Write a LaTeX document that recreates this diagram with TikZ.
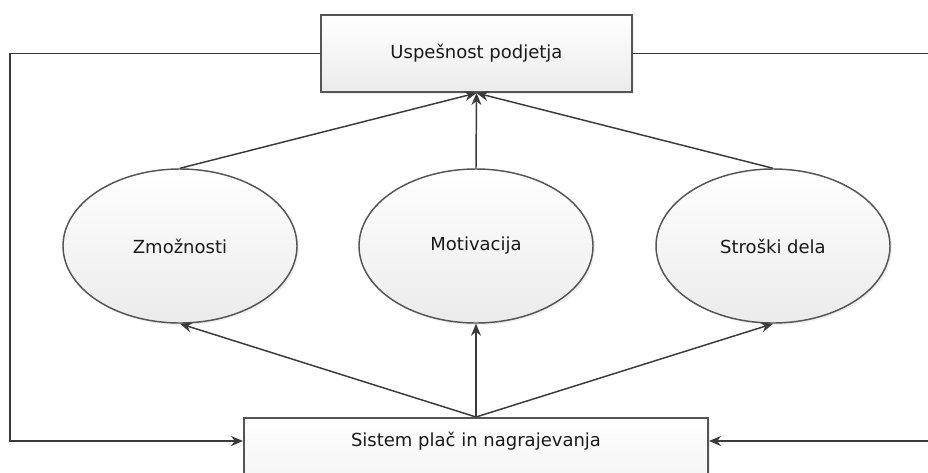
\documentclass[tikz,border=0pt]{standalone}
\usepackage{fontspec}
\setmainfont{DejaVu Sans}
\usetikzlibrary{shapes.geometric,arrows.meta,shadows}
\definecolor{edgegray}{HTML}{555555}
\definecolor{linegray}{HTML}{3A3A3A}
\definecolor{txtgray}{HTML}{1A1A1A}
\definecolor{fillbot}{HTML}{EBEBEB}
\tikzset{
  boxstyle/.style={rectangle, draw=edgegray, line width=1.5pt, top color=white, bottom color=fillbot,
    drop shadow={opacity=0.12, shadow xshift=1.5pt, shadow yshift=-1.5pt}, inner sep=0pt},
  ellstyle/.style={ellipse, draw=edgegray, line width=1.1pt, top color=white, bottom color=fillbot,
    drop shadow={opacity=0.12, shadow xshift=1.5pt, shadow yshift=-1.5pt},
    minimum width=175.5pt, minimum height=115.5pt, inner sep=0pt},
  lbl/.style={text=txtgray, font=\fontsize{13.5}{16}\selectfont},
  conn/.style={draw=linegray, line width=1.1pt},
  arr/.style={conn, -{Stealth[length=9pt,width=7.5pt]}}
}
\begin{document}
\begin{tikzpicture}[x=0.75pt,y=-0.75pt]
\useasboundingbox (0,0) rectangle (928,472);
\clip (0,0) rectangle (928,472);
\fill[white] (0,0) rectangle (928,472);
% nodes
\node[boxstyle, lbl, minimum width=233.25pt, minimum height=57.75pt] (T) at (476.5,53.5) {Uspešnost podjetja};
\node[ellstyle, lbl] (L) at (180,246) {Zmožnosti};
\node[ellstyle, lbl] (M) at (476,246) {Motivacija};
\node[ellstyle, lbl] (R) at (773,246) {Stroški dela};
\node[boxstyle, minimum width=348pt, minimum height=90pt] (B) at (476,478) {};
\node[lbl] (Bt) at (476,441) {Sistem plač in nagrajevanja};
\coordinate (lft) at (10,441);
\coordinate (rgt) at (940,441);
% connectors
\draw[arr] (L.north) -- (T.south);
\draw[arr] (M.north) -- (T.south);
\draw[arr] (R.north) -- (T.south);
\draw[arr] (B.north) -- (L.south);
\draw[arr] (B.north) -- (M.south);
\draw[arr] (B.north) -- (R.south);
\draw[arr] (T.west) -| (lft) -- (Bt -| B.west);
\draw[arr] (T.east) -| (rgt) -- (Bt -| B.east);
\end{tikzpicture}
\end{document}
